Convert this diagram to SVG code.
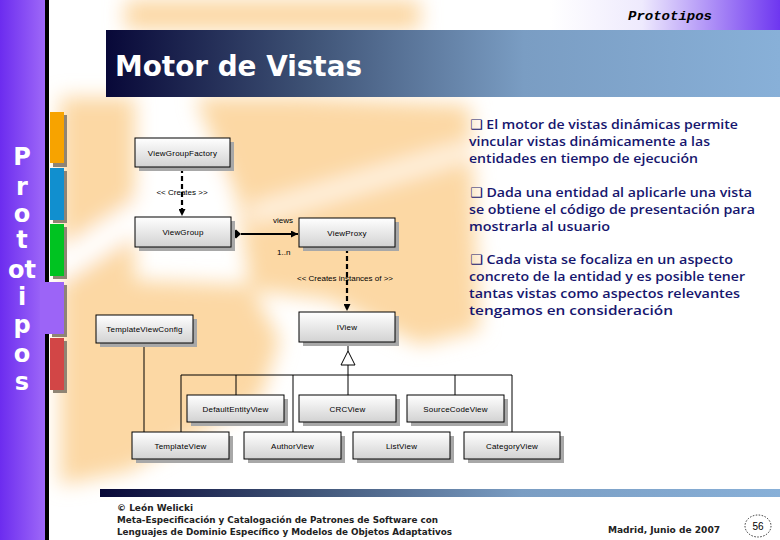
<svg xmlns="http://www.w3.org/2000/svg" width="780" height="540" viewBox="0 0 780 540">
<defs>
  <linearGradient id="side" x1="0" y1="0" x2="1" y2="0">
    <stop offset="0" stop-color="#6c2cef"/><stop offset="1" stop-color="#9e68f8"/>
  </linearGradient>
  <linearGradient id="topr" x1="0" y1="0" x2="1" y2="0">
    <stop offset="0" stop-color="#ffffff"/><stop offset="0.4" stop-color="#eeeafd"/><stop offset="1" stop-color="#6e36f0"/>
  </linearGradient>
  <linearGradient id="bar" x1="0" y1="0" x2="1" y2="0">
    <stop offset="0" stop-color="#080838"/><stop offset="0.3" stop-color="#3e5275"/><stop offset="0.62" stop-color="#7a9dc3"/><stop offset="1" stop-color="#88b0d8"/>
  </linearGradient>
  <linearGradient id="nodeg" x1="0" y1="0" x2="0" y2="1">
    <stop offset="0" stop-color="#ffffff"/><stop offset="1" stop-color="#d2d2d2"/>
  </linearGradient>
  <filter id="blur" x="-30%" y="-30%" width="160%" height="160%"><feGaussianBlur stdDeviation="10"/></filter>
  <marker id="arr" viewBox="0 0 8 8" markerWidth="7" markerHeight="7" refX="8" refY="4" orient="auto" markerUnits="userSpaceOnUse">
    <path d="M0,0 L8,4 L0,8 z" fill="#000"/>
  </marker>
  <style>
    .shadow{fill:#a8a8a8}
    .box{fill:url(#nodeg);stroke:#000;stroke-width:1}
    .lbl{font-family:"Liberation Sans",Arial,sans-serif;font-size:8px;fill:#000;text-anchor:middle;letter-spacing:0.2px}
    .clbl{font-family:"Liberation Sans",Arial,sans-serif;font-size:8px;fill:#000}
    .ln{stroke:#000;stroke-width:1;fill:none}
    .dash{stroke:#000;stroke-width:2.2;stroke-dasharray:5 3;fill:none}
    .side{font-family:"DejaVu Sans",sans-serif;font-weight:bold;font-size:24px;fill:#fff;text-anchor:middle}
    .body{font-family:"Open Sans","DejaVu Sans",sans-serif;font-weight:600;font-size:13px;fill:#16166e}
    .foot{font-family:"DejaVu Sans",sans-serif;font-weight:bold;font-size:9px;fill:#222}
    .tabsh{fill:#8f8474}
  </style>
</defs>

<!-- background -->
<rect width="780" height="540" fill="#ffffff"/>
<g id="background" filter="url(#blur)" fill="#fcd8a4">
  <polygon points="125,0 420,0 420,30 125,30"/>
  <polygon points="60,97 135,97 135,470 60,485"/>
  <polygon points="195,97 300,97 470,105 480,330 420,345 330,300 250,290 238,200"/>
  <polygon points="130,280 250,285 280,340 260,400 185,440 130,470"/>
  <path d="M55,270 L215,165" stroke="#ffffff" stroke-width="30"/>
  <path d="M250,215 L470,150" stroke="#fff3e2" stroke-width="20"/>
</g>

<!-- top right header -->
<rect x="550" y="0" width="230" height="31" fill="url(#topr)"/>
<text x="628" y="20" font-family="'Liberation Mono','DejaVu Sans Mono',monospace" font-weight="bold" font-style="italic" font-size="13" fill="#000" textLength="84" lengthAdjust="spacingAndGlyphs">Prototipos</text>

<!-- title bar -->
<rect x="106" y="30" width="674" height="67" fill="url(#bar)"/>
<text x="115" y="76" font-family="'DejaVu Sans',sans-serif" font-weight="bold" font-size="28" fill="#ffffff" textLength="247" lengthAdjust="spacingAndGlyphs">Motor de Vistas</text>

<!-- left sidebar -->
<rect x="0" y="0" width="45" height="540" fill="url(#side)"/>
<rect x="45" y="0" width="4" height="282" fill="#000"/>
<rect x="45" y="334" width="4" height="206" fill="#000"/>
<rect x="52" y="285" width="15" height="52" class="tabsh"/>
<rect x="40" y="282" width="24" height="52" fill="#9c64f7"/>
<rect x="53" y="115" width="14" height="52" class="tabsh"/>
<rect x="50" y="112" width="14" height="51" fill="#f7a300"/>
<rect x="53" y="171" width="14" height="52" class="tabsh"/>
<rect x="50" y="168" width="14" height="52" fill="#118fcf"/>
<rect x="53" y="227" width="14" height="52" class="tabsh"/>
<rect x="50" y="224" width="14" height="52" fill="#00c321"/>
<rect x="53" y="341" width="14" height="52" class="tabsh"/>
<rect x="50" y="338" width="14" height="52" fill="#d24646"/>
<g id="sidebar-text">
  <text class="side" x="22" y="165">P</text>
  <text class="side" x="22" y="195">r</text>
  <text class="side" x="22" y="222">o</text>
  <text class="side" x="22" y="248">t</text>
  <text class="side" x="22" y="278">ot</text>
  <text class="side" x="22" y="305">i</text>
  <text class="side" x="22" y="333">p</text>
  <text class="side" x="22" y="362">o</text>
  <text class="side" x="22" y="390">s</text>
</g>

<!-- connectors -->
<g id="connectors">
  <path class="dash" d="M182,168 V216" marker-end="url(#arr)"/>
  <text class="clbl" x="182" y="195" text-anchor="middle">&lt;&lt; Creates &gt;&gt;</text>
  <path d="M241,234 H298" stroke="#000" stroke-width="2" marker-end="url(#arr)"/>
  <polygon points="231,234 236,229.5 241,234 236,238.5" fill="#000"/>
  <text class="clbl" x="273" y="223">views</text>
  <text class="clbl" x="277" y="255">1..n</text>
  <path class="dash" d="M347,248 V311" marker-end="url(#arr)"/>
  <text class="clbl" x="345" y="281" text-anchor="middle">&lt;&lt; Creates instances of &gt;&gt;</text>
  <path class="ln" d="M348,342 V351"/>
  <polygon points="348,351 341,365 355,365" fill="#fff" stroke="#000" stroke-width="1"/>
  <path class="ln" d="M348,365 V395"/>
  <path class="ln" d="M181,375 H512"/>
  <path class="ln" d="M181,375 V432"/>
  <path class="ln" d="M236,375 V395"/>
  <path class="ln" d="M293,375 V432"/>
  <path class="ln" d="M455,375 V395"/>
  <path class="ln" d="M512,375 V432"/>
  <path class="ln" d="M144,343 V432"/>
</g>

<!-- nodes -->
<g id="n-ViewGroupFactory"><rect class="shadow" x="139" y="142" width="95" height="29"/><rect class="box" x="135" y="138" width="95" height="29"/><text class="lbl" x="182.5" y="155.5">ViewGroupFactory</text></g>
<g id="n-ViewGroup"><rect class="shadow" x="139" y="221" width="96" height="30"/><rect class="box" x="135" y="217" width="96" height="30"/><text class="lbl" x="183" y="235">ViewGroup</text></g>
<g id="n-ViewProxy"><rect class="shadow" x="303" y="222" width="96" height="29"/><rect class="box" x="299" y="218" width="96" height="29"/><text class="lbl" x="347" y="235.5">ViewProxy</text></g>
<g id="n-IView"><rect class="shadow" x="303" y="316" width="96" height="30"/><rect class="box" x="299" y="312" width="96" height="30"/><text class="lbl" x="347" y="330">IView</text></g>
<g id="n-TemplateViewConfig"><rect class="shadow" x="100" y="319" width="97" height="28"/><rect class="box" x="96" y="315" width="97" height="28"/><text class="lbl" x="144.5" y="332">TemplateViewConfig</text></g>
<g id="n-DefaultEntityView"><rect class="shadow" x="191" y="399" width="97" height="27"/><rect class="box" x="187" y="395" width="97" height="27"/><text class="lbl" x="235.5" y="411.5">DefaultEntityView</text></g>
<g id="n-CRCView"><rect class="shadow" x="303" y="399" width="97" height="27"/><rect class="box" x="299" y="395" width="97" height="27"/><text class="lbl" x="347.5" y="411.5">CRCView</text></g>
<g id="n-SourceCodeView"><rect class="shadow" x="411" y="399" width="97" height="27"/><rect class="box" x="407" y="395" width="97" height="27"/><text class="lbl" x="455.5" y="411.5">SourceCodeView</text></g>
<g id="n-TemplateView"><rect class="shadow" x="136" y="436" width="97" height="27"/><rect class="box" x="132" y="432" width="97" height="27"/><text class="lbl" x="180.5" y="448.5">TemplateView</text></g>
<g id="n-AuthorView"><rect class="shadow" x="248" y="436" width="97" height="27"/><rect class="box" x="244" y="432" width="97" height="27"/><text class="lbl" x="292.5" y="448.5">AuthorView</text></g>
<g id="n-ListView"><rect class="shadow" x="357" y="436" width="97" height="27"/><rect class="box" x="353" y="432" width="97" height="27"/><text class="lbl" x="401.5" y="448.5">ListView</text></g>
<g id="n-CategoryView"><rect class="shadow" x="468" y="436" width="96" height="27"/><rect class="box" x="464" y="432" width="96" height="27"/><text class="lbl" x="512" y="448.5">CategoryView</text></g>

<!-- right-hand text -->
<g id="bullets">
  <text class="body" x="470" y="129" textLength="268" lengthAdjust="spacingAndGlyphs">❑ El motor de vistas dinámicas permite</text>
  <text class="body" x="469" y="146" textLength="241" lengthAdjust="spacingAndGlyphs">vincular vistas dinámicamente a las</text>
  <text class="body" x="469" y="163" textLength="229" lengthAdjust="spacingAndGlyphs">entidades en tiempo de ejecución</text>
  <text class="body" x="470" y="197" textLength="282" lengthAdjust="spacingAndGlyphs">❑ Dada una entidad al aplicarle una vista</text>
  <text class="body" x="469" y="214" textLength="286" lengthAdjust="spacingAndGlyphs">se obtiene el código de presentación para</text>
  <text class="body" x="469" y="231" textLength="141" lengthAdjust="spacingAndGlyphs">mostrarla al usuario</text>
  <text class="body" x="470" y="264" textLength="263" lengthAdjust="spacingAndGlyphs">❑ Cada vista se focaliza en un aspecto</text>
  <text class="body" x="469" y="281" textLength="276" lengthAdjust="spacingAndGlyphs">concreto de la entidad y es posible tener</text>
  <text class="body" x="469" y="298" textLength="271" lengthAdjust="spacingAndGlyphs">tantas vistas como aspectos relevantes</text>
  <text class="body" x="469" y="315" textLength="204" lengthAdjust="spacingAndGlyphs">tengamos en consideración</text>
</g>

<!-- footer -->
<rect x="100" y="489" width="680" height="8" fill="url(#bar)"/>
<g id="footer">
  <text class="foot" x="117" y="511">© León Welicki</text>
  <text class="foot" x="117" y="523" textLength="321" lengthAdjust="spacingAndGlyphs">Meta-Especificación y Catalogación de Patrones de Software con</text>
  <text class="foot" x="117" y="535" textLength="335" lengthAdjust="spacingAndGlyphs">Lenguajes de Dominio Específico y Modelos de Objetos Adaptativos</text>
  <text class="foot" x="608" y="533" textLength="112" lengthAdjust="spacingAndGlyphs">Madrid, Junio de 2007</text>
  <ellipse cx="758" cy="526" rx="13" ry="11" fill="none" stroke="#000" stroke-width="0.8" stroke-dasharray="1.5 1.5"/>
  <text x="758" y="530" font-family="'Liberation Sans',sans-serif" font-size="10" fill="#000" text-anchor="middle">56</text>
</g>
</svg>
